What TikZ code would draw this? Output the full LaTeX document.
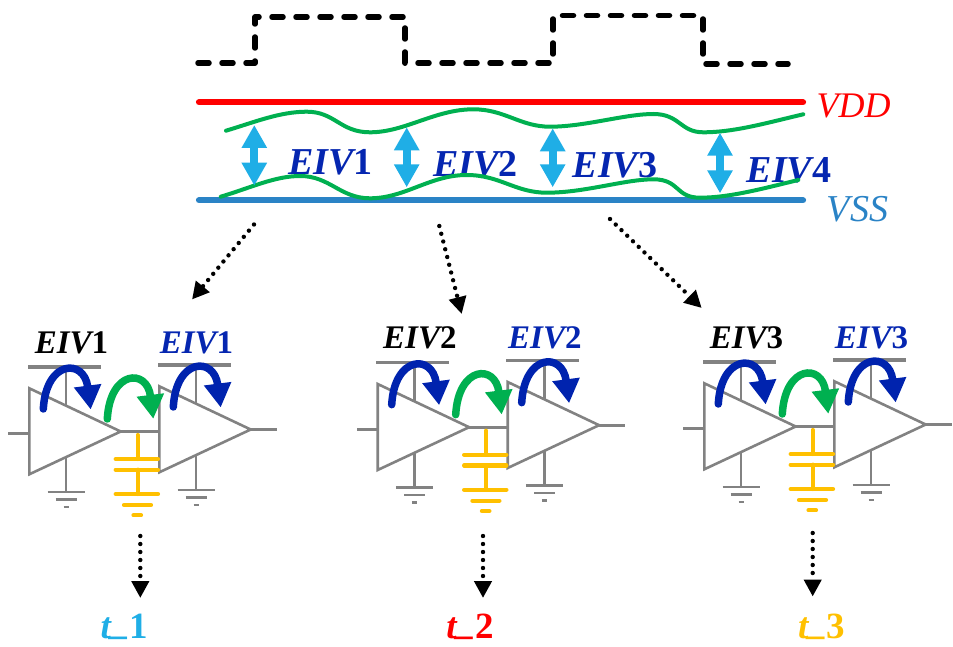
\documentclass[tikz,border=0pt]{standalone}
\usepackage{fontspec}
\setmainfont{Liberation Serif}
\usetikzlibrary{arrows.meta}
\definecolor{vddred}{HTML}{FF0000}
\definecolor{vssblue}{HTML}{2A83C6}
\definecolor{wavegreen}{HTML}{00B050}
\definecolor{eivblue}{HTML}{0526B0}
\definecolor{arcblue}{HTML}{0023AE}
\definecolor{skyblue}{HTML}{1FAEE6}
\definecolor{capyellow}{HTML}{FFC000}
\definecolor{ampgray}{HTML}{828282}
\newcommand{\eivlabel}[1]{EIV{\upshape #1}}
\newcommand{\tlabel}[1]{t\raisebox{4pt}{\_}{\upshape #1}}
\tikzset{
  rail/.style={line width=6.2pt,line cap=round},
  wave/.style={draw=wavegreen,line width=4pt,line cap=round},
  clock/.style={black,line width=5.5pt,line cap=round,line join=round,dash pattern=on 11pt off 13pt},
  swing/.style={draw=skyblue,line width=8pt,{Triangle[length=23pt,width=24pt]}-{Triangle[length=23pt,width=24pt]}},
  dotline/.style={black,line width=4.4pt,line cap=round,dash pattern=on 0pt off 8pt,-{Triangle[length=17pt,width=17pt]}},
  amp/.style={draw=ampgray,line width=2.6pt,fill=white,line join=miter},
  wire/.style={draw=ampgray,line width=2.6pt},
  vrail/.style={draw=ampgray,line width=3.4pt},
  capline/.style={draw=capyellow,line width=4.2pt,line cap=round},
  hop/.style={line width=7.5pt,line cap=round,-{Triangle[length=24pt,width=26pt]}},
  biglabel/.style={anchor=base,inner sep=0pt,text=eivblue,font=\fontsize{38}{38}\selectfont\bfseries\itshape},
  smalllabel/.style={anchor=base,inner sep=0pt,font=\fontsize{33}{33}\selectfont\bfseries\itshape},
  rlabel/.style={anchor=base,inner sep=0pt,font=\fontsize{36}{36}\selectfont\itshape},
  tname/.style={anchor=base,inner sep=0pt,font=\fontsize{37}{37}\selectfont\bfseries\itshape},
}
\newcommand{\ampunit}[3]{% prefix, dx, dy
  \begin{scope}[shift={(#2,#3)}]
    \coordinate (#1t) at (29.3,388.3);
    \coordinate (#1b) at (29.3,474.3);
    \coordinate (#1o) at (120.7,431.5);
    \coordinate (#1rl) at (28,367);
    \coordinate (#1rr) at (101,367);
    \coordinate (#1vt) at (66,367);
    \coordinate (#1vb) at (66,412);
    \coordinate (#1gt) at (66,450);
    \coordinate (#1gb) at (66,492);
    \draw[wire] (#1vt) -- (#1vb);
    \draw[wire] (#1gt) -- (#1gb);
    \draw[vrail] (#1rl) -- (#1rr);
    \draw[wire,line width=2.8pt] (47.5,492) -- (85,492);
    \draw[wire,line width=2.8pt] (55.6,499.3) -- (77,499.3);
    \draw[wire,line width=2.8pt] (63.5,507) -- (69,507);
    \draw[amp] (#1t) -- (#1b) -- (#1o) -- cycle;
    \draw[hop,arcblue] (43.3,409) .. controls (46,360) and (84,358) .. (90.7,409.5);
  \end{scope}
}
\begin{document}
\begin{tikzpicture}[x=1pt,y=-1pt]
\useasboundingbox (0,0) rectangle (953,647);

% clock
\coordinate (ck0) at (198,63);
\coordinate (ck1) at (255,63);
\coordinate (ck2) at (255,17);
\coordinate (ck3) at (405,17);
\coordinate (ck4) at (405,63);
\coordinate (ck5) at (553,63);
\coordinate (ck6) at (553,15.5);
\coordinate (ck7) at (703,15.5);
\coordinate (ck8) at (703,64);
\coordinate (ck9) at (788,64);
\draw[clock] (ck0) -- (ck1) -- (ck2) -- (ck3) -- (ck4) -- (ck5) -- (ck6) -- (ck7) -- (ck8) -- (ck9);

% rails
\coordinate (vddl) at (199,102.3);
\coordinate (vddr) at (803,102.3);
\coordinate (vssl) at (199,200.3);
\coordinate (vssr) at (803,200.3);
\draw[rail,vddred] (vddl) -- (vddr);
\draw[rail,vssblue] (vssl) -- (vssr);
\node[rlabel,text=vddred] (vdd) at (853.5,118) {VDD};
\node[rlabel,text=vssblue,font=\fontsize{38}{38}\selectfont\itshape] (vss) at (857.5,222) {VSS};

% EIV labels
\node[biglabel] (e1) at (330.5,175) {\eivlabel{1}};
\node[biglabel] (e2) at (475.3,176.5) {\eivlabel{2}};
\node[biglabel] (e3) at (615,177.5) {\eivlabel{3}};
\node[biglabel] (e4) at (789,183) {\eivlabel{4}};

% noisy rails
\draw[wave] (226,130.7) .. controls (255,122) and (280,111.7) .. (306.7,111.7)
  .. controls (335,111.7) and (340,132.3) .. (370,132.3)
  .. controls (405,132.3) and (435,109.3) .. (473.3,109.3)
  .. controls (505,109.3) and (520,126.7) .. (550,126.7)
  .. controls (585,126.7) and (625,114) .. (653.3,114)
  .. controls (680,114) and (680,132.3) .. (703.3,132.3)
  .. controls (735,132.3) and (770,122) .. (803.3,114.3);
\draw[wave] (220.7,196.7) .. controls (250,188) and (275,176) .. (300,176)
  .. controls (330,176) and (340,198.3) .. (370,198.3)
  .. controls (405,198.3) and (430,175) .. (466.7,175)
  .. controls (500,175) and (515,192.7) .. (546.7,192.7)
  .. controls (585,192.7) and (625,179.3) .. (653.3,179.3)
  .. controls (680,179.3) and (675,197.7) .. (700,197.7)
  .. controls (730,197.7) and (765,188) .. (798.3,180);

% swing arrows
\coordinate (s1t) at (254.3,125);
\coordinate (s1b) at (254.3,185.7);
\coordinate (s2t) at (406.7,127.3);
\coordinate (s2b) at (406.7,187.3);
\coordinate (s3t) at (552.7,128.3);
\coordinate (s3b) at (552.7,187.3);
\coordinate (s4t) at (720,132.7);
\coordinate (s4b) at (720,193.3);
\draw[swing] (s1t) -- (s1b);
\draw[swing] (s2t) -- (s2b);
\draw[swing] (s3t) -- (s3b);
\draw[swing] (s4t) -- (s4b);

% dotted arrows from the rails
\coordinate (d1a) at (254,224.5);
\coordinate (d1b) at (192,299.5);
\coordinate (d2a) at (439.3,226);
\coordinate (d2b) at (461.7,314);
\coordinate (d3a) at (610,219);
\coordinate (d3b) at (701.7,308);
\draw[dotline] (d1a) -- (d1b);
\draw[dotline] (d2a) -- (d2b);
\draw[dotline] (d3a) -- (d3b);

% stages
\foreach \g/\dx/\dy/\n in {p/0/0/1,q/348.4/-4.3/2,r/675/-5/3}{
  \begin{scope}[shift={(\dx,\dy)}]
    \coordinate (\g cs) at (137.7,435);
    \coordinate (\g cp) at (137.7,459);
    \coordinate (\g cq) at (137.7,469.7);
    \coordinate (\g cg) at (137.7,494);
    \node[smalllabel,text=black] (\g l1) at (71.5,353) {\eivlabel{\n}};
    \node[smalllabel,text=eivblue] (\g l2) at (196.5,353) {\eivlabel{\n}};
  \end{scope}
  \ampunit{\g a}{\dx}{\dy}
  \begin{scope}[shift={(\dx,\dy)}]
    \ampunit{\g b}{130}{-2}
    \draw[wire] (\g ao) -- (\g bt |- \g ao);
    \draw[wire] (\g bo) -- ++(26,0);
    \draw[wire] (\g at |- 0,433.7) -- ++(-21,0);
    \draw[capline] (\g cs) -- (\g cp);
    \draw[capline] (\g cq) -- (\g cg);
    \draw[capline] (115.7,459) -- (158,459);
    \draw[capline] (115.7,469.7) -- (158,469.7);
    \draw[capline] (115.7,494) -- (158,494);
    \draw[capline] (124,505) -- (151,505);
    \draw[capline] (133.5,515.3) -- (141,515.3);
    \draw[hop,wavegreen] (107.3,419) .. controls (110,370) and (147,368) .. (153.3,418.8);
  \end{scope}
}

% dotted arrows to the time labels
\coordinate (t1a) at (140.3,536);
\coordinate (t1b) at (140.3,598);
\coordinate (t2a) at (483,536);
\coordinate (t2b) at (483,598);
\coordinate (t3a) at (812.7,533);
\coordinate (t3b) at (812.7,596.5);
\draw[dotline] (t1a) -- (t1b);
\draw[dotline] (t2a) -- (t2b);
\draw[dotline] (t3a) -- (t3b);
\node[tname,text=skyblue] (t1) at (124.3,638) {\tlabel{1}};
\node[tname,text=vddred] (t2) at (470,638) {\tlabel{2}};
\node[tname,text=capyellow] (t3) at (821.7,638.5) {\tlabel{3}};
\end{tikzpicture}
\end{document}
